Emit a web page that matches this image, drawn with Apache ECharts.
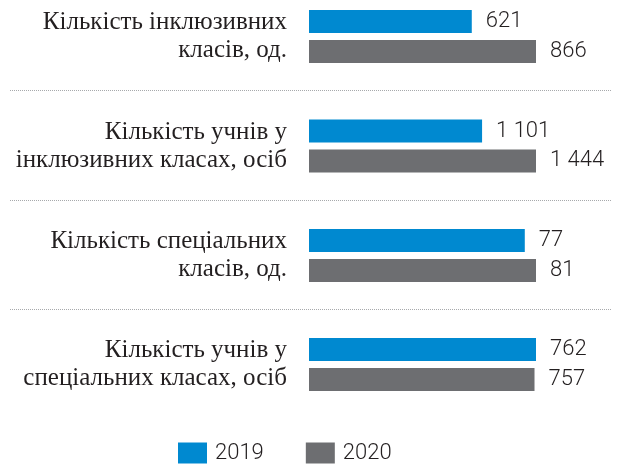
<!DOCTYPE html>
<html>
<head>
<meta charset="utf-8">
<script src="https://cdn.jsdelivr.net/npm/echarts@6/dist/echarts.min.js"></script>
<style>
  html, body { margin: 0; padding: 0; background: #fff; }
  #chart { width: 617px; height: 466px; }
</style>
</head>
<body>
<div id="chart"></div>
<script>
  const groups = [
    'Кількість інклюзивних\nкласів, од.',
    'Кількість учнів у\nінклюзивних класах, осіб',
    'Кількість спеціальних\nкласів, од.',
    'Кількість учнів у\nспеціальних класах, осіб',
  ];
  const values2019 = [621, 1101, 77, 762];
  const values2020 = [866, 1444, 81, 757];
  const years = ['2019', '2020'];

  const colors = { '2019': '#0089d0', '2020': '#6d6e71' };
  const groupTops = [10, 119.5, 229, 338];
  const separatorsY = [90.5, 200.5, 309.5];

  const chart = echarts.init(document.getElementById('chart'));

  const fmt = (v) => String(v).replace(/\B(?=(\d{3})+(?!\d))/g, ' ');

  const grids = [];
  const xAxes = [];
  const yAxes = [];
  const series = [];

  groups.forEach((g, i) => {
    grids.push({ left: 309, width: 227, top: groupTops[i], height: 53 });
    xAxes.push({ gridIndex: i, type: 'value', min: 0, max: 'dataMax', show: false });
    yAxes.push({
      gridIndex: i,
      type: 'category',
      data: [g],
      axisLine: { show: false },
      axisTick: { show: false },
      axisLabel: {
        margin: 22,
        align: 'right',
        fontFamily: 'Liberation Serif',
        fontSize: 25,
        lineHeight: 28,
        color: '#231f20',
      },
    });
    [values2019, values2020].forEach((vals, k) => {
      series.push({
        name: years[k],
        type: 'bar',
        xAxisIndex: i,
        yAxisIndex: i,
        data: [vals[i]],
        barWidth: 23,
        barGap: '30%',
        itemStyle: { color: colors[years[k]] },
        label: {
          show: true,
          position: 'right',
          distance: 14,
          formatter: (p) => fmt(p.value),
          fontFamily: 'Roboto',
          fontWeight: 300,
          fontSize: 22,
          color: '#231f20',
        },
        animation: false,
      });
    });
  });

  const option = {
    animation: false,
    grid: grids,
    xAxis: xAxes,
    yAxis: yAxes,
    series: series,
    legend: {
      data: years,
      left: 178,
      top: 442,
      padding: 0,
      icon: 'rect',
      itemWidth: 29,
      itemHeight: 21,
      itemGap: 42,
      textStyle: {
        fontFamily: 'Roboto',
        fontWeight: 300,
        fontSize: 22,
        color: '#231f20',
        padding: [0, 0, 0, 3],
      },
    },
    graphic: separatorsY.map((y) => ({
      type: 'line',
      shape: { x1: 10, y1: y, x2: 612, y2: y },
      style: { stroke: '#a7a9ac', lineWidth: 1, lineDash: [1, 1] },
      silent: true,
    })),
  };

  chart.setOption(option);
</script>
</body>
</html>
